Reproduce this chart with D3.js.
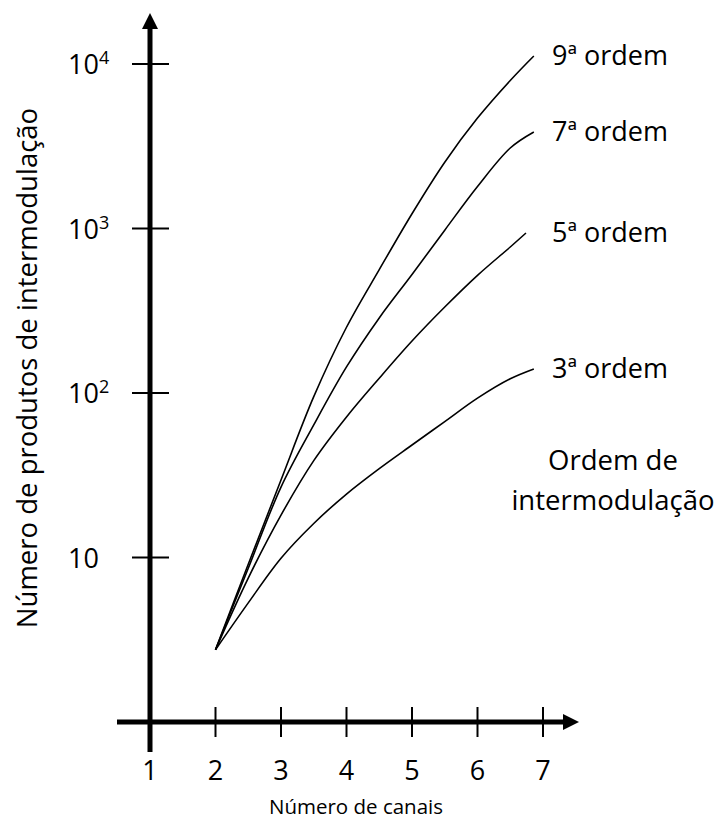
<!DOCTYPE html>
<html>
<head>
<meta charset="utf-8">
<script src="https://cdn.jsdelivr.net/npm/d3@7"></script>
<style>
  html, body { margin: 0; padding: 0; background: #fff; }
  svg { display: block; font-family: "Open Sans", Lato, sans-serif; }
</style>
</head>
<body>
<svg id="chart" width="720" height="819"></svg>
<script>
// Number of intermodulation products vs number of channels
const orders = ["3ª ordem", "5ª ordem", "7ª ordem", "9ª ordem"];
const channels = [2, 2.5, 3, 3.5, 4, 4.5, 5, 5.5, 6, 6.5];
const lastChannel = [6.86, 6.74, 6.86, 6.86];
const order3 = [2.75, 5.3, 9.9, 16.1, 24.3, 34.7, 48.3, 67, 93, 122, 140];
const order5 = [2.75, 7.5, 18.1, 38.8, 71.5, 123, 207, 333, 519, 772, 939];
const order7 = [2.75, 8.6, 26.8, 64, 144, 286, 525, 977, 1800, 3085, 3860];
const order9 = [2.75, 9.1, 29.6, 95, 251, 562, 1230, 2530, 4690, 7940, 11190];
const xTicks = [1, 2, 3, 4, 5, 6, 7];
const yTicks = [10, 100, 1000, 10000];
const yTickExp = ["", "2", "3", "4"];

const svg = d3.select("#chart");
const x = d3.scaleLinear().domain([1, 7]).range([150, 543]);
const y = d3.scaleLog().domain([1, 10000]).range([722, 64]);

const series = [order3, order5, order7, order9].map((vals, i) => ({
  name: orders[i],
  points: vals.map((v, j) => [j < channels.length ? channels[j] : lastChannel[i], v])
}));

// curves
const line = d3.line()
  .x(d => x(d[0]))
  .y(d => y(d[1]))
  .curve(d3.curveCatmullRom.alpha(0.5));

svg.append("g").selectAll("path")
  .data(series)
  .join("path")
  .attr("d", d => line(d.points))
  .attr("fill", "none")
  .attr("stroke", "#000")
  .attr("stroke-width", 1.6);

// series labels at curve ends
svg.append("g").selectAll("text")
  .data(series)
  .join("text")
  .attr("x", 552)
  .attr("y", d => y(d.points[d.points.length - 1][1]))
  .attr("dy", "0.33em")
  .attr("font-size", 27)
  .text(d => d.name);

// axes
const xAxisY = y(1);
const axisG = svg.append("g");
axisG.append("line")
  .attr("x1", x(1)).attr("x2", x(1))
  .attr("y1", 752).attr("y2", 26)
  .attr("stroke", "#000").attr("stroke-width", 5);
axisG.append("path")
  .attr("d", `M${x(1)},13 L${x(1) + 8},29 L${x(1) - 8},29 Z`)
  .attr("fill", "#000");
axisG.append("line")
  .attr("x1", 117).attr("x2", 565)
  .attr("y1", xAxisY).attr("y2", xAxisY)
  .attr("stroke", "#000").attr("stroke-width", 5);
axisG.append("path")
  .attr("d", `M579,${xAxisY} L563,${xAxisY - 8} L563,${xAxisY + 8} Z`)
  .attr("fill", "#000");

// x ticks
const xt = svg.append("g").selectAll("g")
  .data(xTicks)
  .join("g")
  .attr("transform", d => `translate(${x(d)},0)`);
xt.filter(d => d !== 1).append("line")
  .attr("y1", xAxisY - 15).attr("y2", xAxisY + 15)
  .attr("stroke", "#000").attr("stroke-width", 2);
xt.append("text")
  .attr("y", 780)
  .attr("text-anchor", "middle")
  .attr("font-size", 27)
  .text(d => d);

// y ticks
const yt = svg.append("g").selectAll("g")
  .data(yTicks)
  .join("g")
  .attr("transform", d => `translate(0,${y(d)})`);
yt.append("line")
  .attr("x1", x(1) - 18).attr("x2", x(1) + 19)
  .attr("stroke", "#000").attr("stroke-width", 2);
const ytText = yt.append("text")
  .attr("x", 68)
  .attr("y", 10)
  .attr("font-size", 27);
ytText.append("tspan").text("10");
ytText.append("tspan")
  .attr("dy", -10)
  .attr("font-size", 18)
  .text((d, i) => yTickExp[i]);

// axis titles
svg.append("text")
  .attr("transform", `translate(37,368) rotate(-90)`)
  .attr("text-anchor", "middle")
  .attr("font-size", 27.5)
  .text("Número de produtos de intermodulação");

svg.append("text")
  .attr("x", 356).attr("y", 814)
  .attr("text-anchor", "middle")
  .attr("font-size", 20.5)
  .text("Número de canais");

const legendTitle = svg.append("text")
  .attr("text-anchor", "middle")
  .attr("font-size", 27.5);
legendTitle.append("tspan").attr("x", 613).attr("y", 470).text("Ordem de");
legendTitle.append("tspan").attr("x", 613).attr("y", 510).text("intermodulação");
</script>
</body>
</html>
